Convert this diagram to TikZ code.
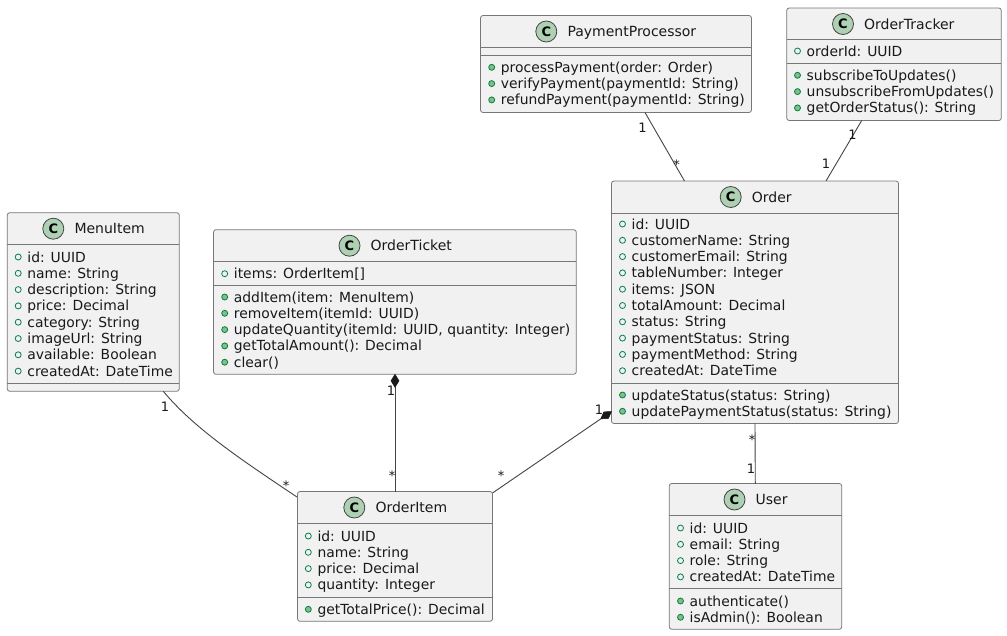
\documentclass[tikz,border=0pt]{standalone}
\usepackage{fontspec}
\setmainfont{DejaVu Sans}
\usetikzlibrary{calc}
\definecolor{boxfill}{HTML}{F1F1F1}
\definecolor{boxline}{HTML}{777777}
\definecolor{iconfill}{HTML}{ADD1B2}
\definecolor{memline}{HTML}{038048}
\definecolor{memfill}{HTML}{84BE84}
\definecolor{linkline}{HTML}{444444}
\tikzset{
  classbox/.style={draw=boxline,fill=boxfill,line width=0.8pt,rounded corners=2.5pt,inner sep=0pt,outer sep=0pt},
  sepline/.style={draw=boxline,line width=0.7pt},
  icon/.style={circle,draw=linkline,fill=iconfill,line width=0.8pt,minimum size=21pt,inner sep=0pt,font=\fontsize{13}{13}\selectfont\bfseries},
  titletext/.style={anchor=base west,inner sep=0pt,font=\fontsize{14}{16}\selectfont,text=black!90},
  rowtext/.style={anchor=base west,inner sep=0pt,font=\fontsize{13.9}{16}\selectfont,text=black!90},
  mult/.style={inner sep=0pt,font=\fontsize{13}{13}\selectfont,text=black!90},
  link/.style={draw=linkline,line width=0.9pt},
  diam/.style={fill=black!90,draw=black!90,line width=0.5pt},
  openmark/.style={circle,draw=memline,fill=boxfill,line width=0.8pt,minimum size=6pt,inner sep=0pt},
  fullmark/.style={circle,draw=memline,fill=memfill,line width=0.8pt,minimum size=6pt,inner sep=0pt},
}
% #1 name #2 x1 #3 y1 #4 x2 #5 y2 #6 icon x #7 title #8 title sep #9 second sep
\newcommand{\umlclass}[9]{%
  \node[classbox,minimum width=#4pt-#2pt,minimum height=#5pt-#3pt,anchor=north west] (#1) at (#2,#3) {};
  \draw[sepline] (#2,#8) -- (#4,#8);
  \draw[sepline] (#2,#9) -- (#4,#9);
  \node[icon] (#1-icon) at (#6,#3+16) {C};
  \node[titletext] (#1-title) at (#6+21,#3+21) {#7};
}
% #1 class #2 x #3 first centre y #4 mark style #5 tag #6 list
\newcommand{\umlrows}[6]{%
  \foreach \rowtxt [count=\rowi] in {#6} {
    \node[#4] (#1-#5m\rowi) at (#2,#3+16.3*\rowi-16.3) {};
    \node[rowtext] (#1-#5\rowi) at (#2+9,#3+16.3*\rowi-16.3+5) {\rowtxt};
  }
}
\begin{document}
\begin{tikzpicture}[x=1pt,y=-1pt]
\useasboundingbox (0,0) rectangle (1007,635);
\fill[white] (0,0) rectangle (1007,635);

\umlclass{pay}{480.5}{15.5}{751.5}{112.5}{546.3}{PaymentProcessor}{47.5}{55.5}
\umlrows{pay}{491.7}{67.3}{fullmark}{m}{{processPayment(order: Order)},{verifyPayment(paymentId: String)},{refundPayment(paymentId: String)}}

\umlclass{track}{786.7}{8}{1001.3}{120.5}{843}{OrderTracker}{39.5}{63.3}
\umlrows{track}{797.5}{51}{openmark}{f}{{orderId: UUID}}
\umlrows{track}{797.5}{75.3}{fullmark}{m}{{subscribeToUpdates()},{unsubscribeFromUpdates()},{getOrderStatus(): String}}

\umlclass{order}{611.5}{181}{898.5}{423.5}{730.7}{Order}{213}{383.3}
\umlrows{order}{622.5}{224}{openmark}{f}{{id: UUID},{customerName: String},{customerEmail: String},{tableNumber: Integer},{items: JSON},{totalAmount: Decimal},{status: String},{paymentStatus: String},{paymentMethod: String},{createdAt: DateTime}}
\umlrows{order}{622.5}{395}{fullmark}{m}{{updateStatus(status: String)},{updatePaymentStatus(status: String)}}

\umlclass{menu}{7.3}{212.7}{179.3}{391.3}{53.3}{MenuItem}{244.3}{383.3}
\umlrows{menu}{18.2}{257}{openmark}{f}{{id: UUID},{name: String},{description: String},{price: Decimal},{category: String},{imageUrl: String},{available: Boolean},{createdAt: DateTime}}

\umlclass{ticket}{213.5}{229.7}{576.3}{374.3}{349.5}{OrderTicket}{261.7}{285.7}
\umlrows{ticket}{224.7}{273.7}{openmark}{f}{{items: OrderItem[]}}
\umlrows{ticket}{224.7}{297}{fullmark}{m}{{addItem(item: MenuItem)},{removeItem(itemId: UUID)},{updateQuantity(itemId: UUID, quantity: Integer)},{getTotalAmount(): Decimal},{clear()}}

\umlclass{item}{297.5}{491.5}{492.5}{621.3}{354.3}{OrderItem}{523.3}{597}
\umlrows{item}{308.3}{536}{openmark}{f}{{id: UUID},{name: String},{price: Decimal},{quantity: Integer}}
\umlrows{item}{308.3}{609.3}{fullmark}{m}{{getTotalPrice(): Decimal}}

\umlclass{user}{669.3}{483.5}{841.7}{629.3}{734.5}{User}{515.7}{588.7}
\umlrows{user}{680.5}{528}{openmark}{f}{{id: UUID},{email: String},{role: String},{createdAt: DateTime}}
\umlrows{user}{680.5}{601}{fullmark}{m}{{authenticate()},{isAdmin(): Boolean}}

% connector ends, fixed on the borders of the named boxes
\coordinate (payS) at ($(pay.south west)+(164.5,0)$);
\coordinate (ordN1) at ($(order.north west)+(73,0)$);
\coordinate (trackS) at ($(track.south west)+(75,0)$);
\coordinate (ordN2) at ($(order.north west)+(214.5,0)$);
\coordinate (menuS) at ($(menu.south west)+(156,0)$);
\coordinate (itemW) at ($(item.north west)+(-0.5,5.5)$);
\coordinate (ticketS) at ($(ticket.south west)+(181.5,0)$);
\coordinate (itemN) at ($(item.north west)+(97.5,0)$);
\coordinate (itemNE) at ($(item.north east)+(0,1.5)$);
\coordinate (ordW) at ($(order.south west)+(0,-12)$);
\coordinate (ordS) at ($(order.south west)+(143.5,0)$);
\coordinate (userN) at ($(user.north west)+(86,0)$);
\coordinate (tkD) at ($(ticketS)+(0,13)$);
\coordinate (ordD) at ($(ordW)!13pt!(itemNE)$);

\draw[link] (payS) -- (ordN1);
\draw[link] (trackS) -- (ordN2);
\draw[link] (menuS) .. controls ($(menuS)+(30,36)$) and ($(itemW)+(-60,-40)$) .. (itemW);
\draw[link] (tkD) -- (itemN);
\draw[link] (ordD) -- (itemNE);
\draw[link] (ordS) -- (userN);

\fill[diam] (ticketS) -- ++(4,6.5) -- (tkD) -- ++(-4,-6.5) -- cycle;
\fill[diam] (ordW) -- ($(ordW)!6.5pt!(itemNE)!4pt!90:(itemNE)$) -- (ordD) -- ($(ordW)!6.5pt!(itemNE)!4pt!-90:(itemNE)$) -- cycle;

\node[mult] (l1) at (642.5,127.5) {1};
\node[mult] (l2) at (676.5,165) {*};
\node[mult] (l3) at (852.5,135) {1};
\node[mult] (l4) at (826,164) {1};
\node[mult] (l5) at (165,406.5) {1};
\node[mult] (l6) at (286,485.5) {*};
\node[mult] (l7) at (391,390.5) {1};
\node[mult] (l8) at (392,476) {*};
\node[mult] (l9) at (599,410) {1};
\node[mult] (l10) at (501,476) {*};
\node[mult] (l11) at (752,440) {*};
\node[mult] (l12) at (751,468.5) {1};
\end{tikzpicture}
\end{document}
